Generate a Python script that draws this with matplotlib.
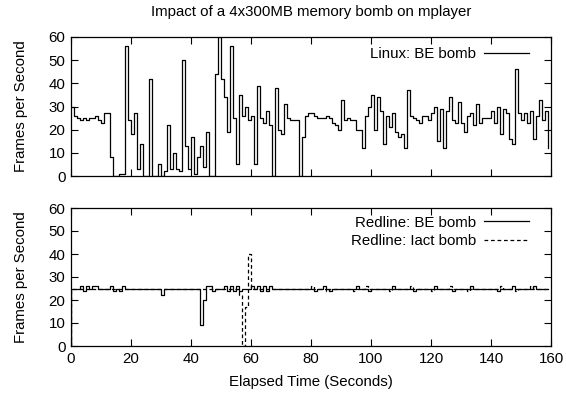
import numpy as np
import matplotlib
matplotlib.use("Agg")
import matplotlib.pyplot as plt

plt.rcParams['font.family'] = ['Liberation Sans', 'DejaVu Sans']

title = "Impact of a 4x300MB memory bomb on mplayer"
xlabel = "Elapsed Time (Seconds)"
ylabel = "Frames per Second"
label_linux = "Linux: BE bomb"
label_rl_be = "Redline: BE bomb"
label_rl_iact = "Redline: Iact bomb"
xticks = [0, 20, 40, 60, 80, 100, 120, 140, 160]
yticks = [0, 10, 20, 30, 40, 50, 60]

# Linux, BE bomb: frames per second for each second 0..159
linux_be = [
    30, 26, 25, 24, 25, 24, 25, 25, 26, 24,
    23, 27, 27, 8, 0, 0, 1, 1, 56, 24,
    18, 27, 3, 14, 0, 0, 42, 0, 0, 5,
    0, 2, 22, 3, 10, 3, 2, 50, 13, 3,
    17, 1, 8, 13, 4, 19, 0, 0, 44, 60,
    42, 34, 19, 56, 25, 5, 35, 26, 30, 24,
    26, 5, 39, 25, 23, 28, 22, 0, 38, 20,
    18, 31, 25, 24, 24, 24, 0, 17, 26, 27,
    27, 26, 25, 25, 25, 26, 25, 23, 22, 20,
    33, 24, 25, 24, 24, 20, 20, 12, 26, 30,
    35, 20, 34, 28, 14, 26, 21, 27, 19, 17,
    18, 12, 37, 26, 25, 24, 23, 26, 26, 24,
    27, 30, 15, 29, 12, 28, 34, 24, 23, 32,
    23, 19, 26, 27, 22, 31, 23, 25, 25, 25,
    28, 23, 30, 18, 29, 27, 16, 14, 46, 27,
    24, 27, 23, 28, 16, 26, 33, 24, 28, 12,
]

# Redline, BE bomb (first sample at t=0 is 0 fps)
redline_be = [0] + [
    25, 25, 25, 26, 24, 26, 25, 26, 26, 25,
    25, 25, 25, 26, 24, 25, 24, 26, 25, 25,
    25, 25, 25, 25, 25, 25, 25, 25, 25, 25,
    22, 25, 25, 25, 25, 25, 25, 25, 25, 25,
    25, 25, 25, 9, 20, 26, 26, 24, 25, 25,
    25, 26, 24, 26, 24, 26, 24, 25, 25, 25,
    26, 25, 26, 24, 26, 24, 26, 25, 25, 25,
    25, 25, 25, 25, 25, 25, 25, 25, 25, 25,
    25, 24, 25, 25, 26, 25, 24, 25, 25, 25,
    25, 25, 25, 25, 25, 26, 25, 25, 25, 24,
    25, 25, 25, 25, 25, 25, 25, 26, 25, 25,
    25, 25, 25, 25, 24, 25, 25, 25, 25, 25,
    25, 26, 25, 25, 25, 25, 25, 24, 25, 25,
    25, 25, 25, 26, 25, 25, 25, 25, 25, 25,
    25, 25, 24, 25, 25, 25, 25, 26, 25, 25,
    25, 25, 25, 25, 26, 25, 25, 25, 25, 25,
]

# Redline, Iact bomb (first sample at t=0 is 0 fps)
redline_iact = [0] + [
    25, 25, 25, 25, 25, 25, 25, 25, 25, 25,
    25, 25, 25, 25, 25, 25, 25, 25, 25, 25,
    25, 25, 25, 25, 25, 25, 25, 25, 25, 25,
    25, 25, 25, 25, 25, 25, 25, 25, 25, 25,
    25, 25, 25, 25, 25, 25, 25, 25, 25, 25,
    25, 25, 25, 25, 25, 25, 22, 0, 17, 40,
    25, 25, 25, 25, 25, 25, 25, 25, 25, 25,
    25, 25, 25, 25, 25, 25, 25, 25, 25, 25,
    26, 25, 25, 25, 25, 24, 25, 25, 25, 25,
    25, 25, 25, 25, 24, 25, 25, 25, 26, 25,
    25, 25, 25, 25, 25, 25, 24, 25, 25, 25,
    25, 25, 25, 26, 25, 25, 25, 25, 25, 25,
    24, 25, 25, 25, 25, 25, 26, 25, 25, 25,
    25, 25, 24, 25, 25, 25, 25, 25, 25, 25,
    25, 25, 25, 26, 25, 25, 25, 25, 24, 25,
    25, 25, 25, 26, 25, 25, 25, 25, 25, 25,
]

t_linux = np.arange(len(linux_be))
t_red = np.concatenate([[0], np.arange(len(redline_be) - 1)])

W, H = 566, 396
fig = plt.figure(figsize=(W / 100, H / 100), dpi=100)

def px_axes(left, top, right, bottom):
    return fig.add_axes([left / W, 1 - bottom / H, (right - left) / W, (bottom - top) / H])

ax1 = px_axes(71, 37, 551, 176)
ax2 = px_axes(71, 208, 551, 346)

fs = 10.8
for ax in (ax1, ax2):
    ax.set_xlim(0, 160)
    ax.set_ylim(0, 60)
    ax.set_xticks(xticks)
    ax.set_yticks(yticks)
    ax.tick_params(direction='in', length=5, width=0.8, top=True, right=True,
                   labelsize=fs, pad=4, colors='black')
    for s in ax.spines.values():
        s.set_linewidth(0.9)
    ax.set_ylabel(ylabel, fontsize=fs, labelpad=15)

ax1.tick_params(labelbottom=False)

ax1.plot(t_linux, linux_be, drawstyle='steps-post', color='black', lw=0.9, label=label_linux)
ax2.plot(t_red, redline_be, drawstyle='steps-post', color='black', lw=0.9, label=label_rl_be)
ax2.plot(t_red, redline_iact, drawstyle='steps-post', color='black', lw=0.9,
         linestyle=(0, (3.0, 2.2)), label=label_rl_iact)

leg_kw = dict(loc='upper right', frameon=False, markerfirst=False, fontsize=fs,
              handlelength=3.0, handletextpad=0.5, labelspacing=0.3, borderpad=0.2)
ax1.legend(bbox_to_anchor=(0.975, 1.005), **leg_kw)
ax2.legend(bbox_to_anchor=(0.975, 1.02), **leg_kw)

ax2.set_xlabel(xlabel, fontsize=fs, labelpad=7)
fig.text(311 / W, 1 - 12 / H, title, ha='center', va='center', fontsize=fs)

fig.savefig("out.png", dpi=100)
